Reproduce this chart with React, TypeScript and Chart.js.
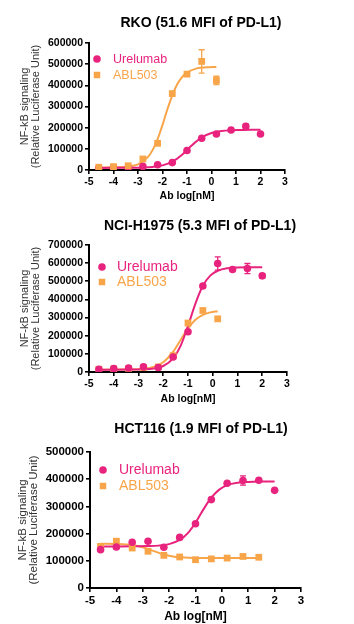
import React, { useEffect, useRef } from "react";
import { Chart, registerables } from "chart.js";

Chart.register(...registerables);

const MAGENTA = "#e8237d";
const ORANGE = "#f8a54a";
const FONT = "'Liberation Sans', Arial, sans-serif";

// ---------- shared ----------
const seriesNames = ["Urelumab", "ABL503"];
const xTickMin = -5;
const xTickMax = 3;
const xAxisTitle = "Ab log[nM]";
const yAxisTitle = ["NF-kB signaling", "(Relative Luciferase Unit)"];

// ---------- RKO ----------
const rkoTitle = "RKO (51.6 MFI of PD-L1)";
const rkoYMax = 600000;
const rkoUreX = [-4.6, -4, -3.4, -2.8, -2.2, -1.6, -1, -0.4, 0.2, 0.8, 1.4, 2];
const rkoUreY = [9000, 10000, 11000, 17000, 25000, 35000, 92000, 150000, 170000, 189000, 207000, 170000];
const rkoUreErr = [0, 0, 0, 0, 0, 0, 0, 0, 0, 0, 10000, 0];
const rkoAblX = [-4.6, -4, -3.4, -2.8, -2.2, -1.6, -1, -0.4, 0.2];
const rkoAblY = [13000, 16000, 20000, 52000, 126000, 361000, 453000, 513000, 423000];
const rkoAblErr = [0, 0, 0, 0, 0, 0, 0, 55000, 20000];
const rkoUreFitX = [-4.6, -4, -3.4, -2.8, -2.4, -2, -1.6, -1.2, -0.8, -0.4, 0, 0.4, 0.8, 1.2, 1.6, 2];
const rkoUreFitY = [10000, 10100, 10400, 11600, 14500, 21700, 39000, 72500, 117000, 154000, 175000, 184000, 188000, 189000, 190000, 190000];
const rkoAblFitX = [-4.6, -4, -3.4, -3, -2.6, -2.4, -2.2, -2, -1.8, -1.6, -1.4, -1.2, -1, -0.6, -0.2, 0.2];
const rkoAblFitY = [12000, 12700, 16500, 27000, 60500, 95000, 146000, 213000, 287000, 353000, 405000, 439000, 460000, 480000, 485000, 487000];

// ---------- NCI-H1975 ----------
const h1975Title = "NCI-H1975 (5.3 MFI of PD-L1)";
const h1975YMax = 700000;
const h1975UreX = [-4.6, -4, -3.4, -2.8, -2.2, -1.6, -1, -0.4, 0.2, 0.8, 1.4, 2];
const h1975UreY = [15000, 18500, 22000, 28000, 25000, 83000, 222000, 474000, 598000, 565000, 570000, 530000];
const h1975UreErr = [0, 0, 0, 0, 0, 0, 10000, 0, 37000, 0, 28000, 12000];
const h1975AblX = [-4.6, -4, -3.4, -2.8, -2.2, -1.6, -1, -0.4, 0.2];
const h1975AblY = [15000, 17000, 20000, 24000, 28000, 90000, 270000, 339000, 293000];
const h1975AblErr = [0, 0, 0, 0, 0, 0, 0, 0, 0];
const h1975UreFitX = [-4.6, -4, -3.4, -2.8, -2.4, -2, -1.6, -1.3, -1, -0.7, -0.4, -0.1, 0.2, 0.6, 1, 1.5, 2];
const h1975UreFitY = [13000, 13050, 13300, 15000, 19200, 33000, 75000, 144000, 254000, 377000, 475000, 531000, 558000, 572000, 576000, 577000, 578000];
const h1975AblFitX = [-4.6, -4, -3.4, -2.8, -2.4, -2, -1.6, -1.3, -1, -0.7, -0.4, -0.1, 0.2];
const h1975AblFitY = [13000, 13200, 14000, 18100, 28000, 54000, 112000, 176500, 240000, 288000, 315000, 328500, 335000];

// ---------- HCT116 ----------
const hctTitle = "HCT116 (1.9 MFI of PD-L1)";
const hctYMax = 500000;
const hctUreX = [-4.6, -4, -3.4, -2.8, -2.2, -1.6, -1, -0.4, 0.2, 0.8, 1.4, 2];
const hctUreY = [141000, 151000, 168000, 172000, 150000, 186000, 236000, 325000, 385000, 395000, 396000, 359000];
const hctUreErr = [0, 0, 0, 0, 0, 0, 0, 0, 0, 17000, 0, 0];
const hctAblX = [-4.6, -4, -3.4, -2.8, -2.2, -1.6, -1, -0.4, 0.2, 0.8, 1.4];
const hctAblY = [153000, 172000, 147000, 135000, 120000, 114000, 104000, 107000, 110000, 116000, 113000];
const hctAblErr = [0, 0, 0, 0, 0, 0, 0, 0, 0, 0, 0];
const hctUreFitX = [-4.6, -4, -3.4, -2.8, -2.4, -2, -1.6, -1.3, -1, -0.7, -0.4, -0.1, 0.2, 0.6, 1, 1.5, 2];
const hctUreFitY = [153000, 153000, 153200, 154000, 155800, 161400, 176700, 201000, 240000, 289000, 332000, 361600, 378000, 387000, 390000, 391500, 392000];
const hctAblFitX = [-4.6, -4, -3.4, -3, -2.6, -2.2, -1.8, -1.4, -1, -0.4, 0.2, 0.8, 1.4];
const hctAblFitY = [162800, 161900, 157800, 149800, 136500, 123200, 115200, 111800, 110600, 110100, 110000, 110000, 110000];

const zip = (xs: number[], ys: number[]) => xs.map((x, i) => ({ x, y: ys[i] }));

const errorBarPlugin = {
  id: "errorBars",
  afterDatasetsDraw(chart: any) {
    const ctx = chart.ctx;
    const ys = chart.scales.y;
    chart.data.datasets.forEach((ds: any, i: number) => {
      const errs = ds.errors;
      if (!errs) return;
      const meta = chart.getDatasetMeta(i);
      ctx.save();
      ctx.strokeStyle = ds.backgroundColor;
      ctx.lineWidth = 1.3;
      meta.data.forEach((pt: any, j: number) => {
        const e = errs[j];
        if (!e) return;
        const v = ds.data[j].y;
        const yT = ys.getPixelForValue(v + e);
        const yB = ys.getPixelForValue(v - e);
        const x = pt.x;
        ctx.beginPath();
        ctx.moveTo(x, yT);
        ctx.lineTo(x, yB);
        ctx.moveTo(x - 3, yT);
        ctx.lineTo(x + 3, yT);
        ctx.moveTo(x - 3, yB);
        ctx.lineTo(x + 3, yB);
        ctx.stroke();
      });
      ctx.restore();
    });
  },
};

const inlineLegendPlugin = {
  id: "inlineLegend",
  afterDraw(chart: any, _args: any, opts: any) {
    if (!opts || !opts.items) return;
    const ctx = chart.ctx;
    const { left, top } = chart.chartArea;
    ctx.save();
    opts.items.forEach((it: any, k: number) => {
      const cy = top + opts.y0 + k * opts.dy;
      const mx = left + opts.markerX;
      ctx.fillStyle = it.color;
      if (it.style === "circle") {
        ctx.beginPath();
        ctx.arc(mx, cy, opts.circleR, 0, Math.PI * 2);
        ctx.fill();
      } else {
        const s = opts.squareS;
        ctx.fillRect(mx - s / 2, cy - s / 2, s, s);
      }
      ctx.font = `${opts.fontSize}px ${FONT}`;
      ctx.textBaseline = "middle";
      ctx.textAlign = "left";
      ctx.fillText(it.label, left + opts.textX, cy + 0.5);
    });
    ctx.restore();
  },
};

const panelTitlePlugin = {
  id: "panelTitle",
  afterDraw(chart: any, _args: any, opts: any) {
    if (!opts || !opts.text) return;
    const ctx = chart.ctx;
    ctx.save();
    ctx.fillStyle = "#000";
    ctx.font = `bold ${opts.size}px ${FONT}`;
    ctx.textAlign = "center";
    ctx.textBaseline = "middle";
    ctx.fillText(opts.text, opts.x, opts.y);
    ctx.restore();
  },
};

type PanelSpec = {
  top: number;
  height: number;
  title: string;
  titleX: number;
  titleY: number;
  plotTop: number;
  yMax: number;
  padLeft: number;
  yWidth: number;
  padRight: number;
  xHeight: number;
  xTitlePadBottom: number;
  tickFont: number;
  xTitleFont: number;
  yTitleFont: number;
  legend: any;
  ure: { x: number[]; y: number[]; err: number[]; fx: number[]; fy: number[] };
  abl: { x: number[]; y: number[]; err: number[]; fx: number[]; fy: number[] };
  ablOnTop: boolean;
};

function buildConfig(p: PanelSpec): any {
  const urePts = {
    type: "scatter",
    data: zip(p.ure.x, p.ure.y),
    backgroundColor: MAGENTA,
    borderColor: MAGENTA,
    pointStyle: "circle",
    pointRadius: 3.8,
    borderWidth: 0,
    errors: p.ure.err,
  };
  const ablPts = {
    type: "scatter",
    data: zip(p.abl.x, p.abl.y),
    backgroundColor: ORANGE,
    borderColor: ORANGE,
    pointStyle: "rect",
    pointRadius: 4.8,
    borderWidth: 0,
    errors: p.abl.err,
  };
  const ureFit = {
    type: "line",
    data: zip(p.ure.fx, p.ure.fy),
    borderColor: MAGENTA,
    backgroundColor: MAGENTA,
    borderWidth: 2,
    pointRadius: 0,
    cubicInterpolationMode: "monotone",
    fill: false,
  };
  const ablFit = {
    type: "line",
    data: zip(p.abl.fx, p.abl.fy),
    borderColor: ORANGE,
    backgroundColor: ORANGE,
    borderWidth: 2,
    pointRadius: 0,
    cubicInterpolationMode: "monotone",
    fill: false,
  };
  // dataset index 0 is drawn on top
  const datasets = p.ablOnTop
    ? [ablPts, urePts, ureFit, ablFit]
    : [urePts, ablPts, ureFit, ablFit];
  return {
    type: "scatter",
    data: { datasets },
    plugins: [errorBarPlugin, inlineLegendPlugin, panelTitlePlugin],
    options: {
      responsive: false,
      animation: false,
      events: [],
      layout: { padding: { left: p.padLeft, right: p.padRight, top: p.plotTop, bottom: 0 } },
      plugins: {
        legend: { display: false },
        tooltip: { enabled: false },
        title: { display: false },
        panelTitle: { text: p.title, x: p.titleX, y: p.titleY, size: 14 },
        inlineLegend: p.legend,
      },
      scales: {
        x: {
          type: "linear",
          min: xTickMin,
          max: xTickMax,
          afterFit: (s: any) => {
            s.height = p.xHeight;
          },
          ticks: {
            stepSize: 1,
            color: "#000",
            padding: 2,
            maxRotation: 0,
            font: { family: FONT, size: p.tickFont, weight: "bold" },
            callback: (v: any) => String(v),
          },
          grid: {
            display: true,
            drawOnChartArea: false,
            drawTicks: true,
            tickLength: 4,
            color: "#000",
            lineWidth: 1.6,
          },
          border: { display: true, color: "#000", width: 2 },
          title: {
            display: true,
            text: xAxisTitle,
            color: "#000",
            font: { family: FONT, size: p.xTitleFont, weight: "bold", lineHeight: 1.2 },
            padding: { top: 0, bottom: p.xTitlePadBottom },
          },
        },
        y: {
          type: "linear",
          min: 0,
          max: p.yMax,
          afterFit: (s: any) => {
            s.width = p.yWidth;
          },
          ticks: {
            stepSize: 100000,
            color: "#000",
            padding: 2,
            font: { family: FONT, size: p.tickFont, weight: "bold" },
            callback: (v: any) => String(v),
          },
          grid: {
            display: true,
            drawOnChartArea: false,
            drawTicks: true,
            tickLength: 4,
            color: "#000",
            lineWidth: 1.6,
          },
          border: { display: true, color: "#000", width: 2 },
          title: {
            display: true,
            text: yAxisTitle,
            color: "#333",
            font: { family: FONT, size: p.yTitleFont, weight: "normal", lineHeight: 1.0 },
            padding: { top: 0, bottom: 0 },
          },
        },
      },
    },
  };
}

const legendItems = [
  { label: seriesNames[0], color: MAGENTA, style: "circle" },
  { label: seriesNames[1], color: ORANGE, style: "rect" },
];

const panels: PanelSpec[] = [
  {
    top: 0,
    height: 205,
    title: rkoTitle,
    titleX: 201,
    titleY: 23,
    plotTop: 43,
    yMax: rkoYMax,
    padLeft: 19,
    yWidth: 70,
    padRight: 69,
    xHeight: 35,
    xTitlePadBottom: 3,
    tickFont: 10.5,
    xTitleFont: 10.5,
    yTitleFont: 11,
    legend: {
      items: legendItems,
      y0: 16,
      dy: 16,
      markerX: 8,
      textX: 24,
      fontSize: 12.5,
      circleR: 3.8,
      squareS: 6.5,
    },
    ure: { x: rkoUreX, y: rkoUreY, err: rkoUreErr, fx: rkoUreFitX, fy: rkoUreFitY },
    abl: { x: rkoAblX, y: rkoAblY, err: rkoAblErr, fx: rkoAblFitX, fy: rkoAblFitY },
    ablOnTop: true,
  },
  {
    top: 205,
    height: 205,
    title: h1975Title,
    titleX: 200,
    titleY: 21,
    plotTop: 40,
    yMax: h1975YMax,
    padLeft: 19,
    yWidth: 70,
    padRight: 67,
    xHeight: 38,
    xTitlePadBottom: 5,
    tickFont: 10.5,
    xTitleFont: 10.5,
    yTitleFont: 11,
    legend: {
      items: legendItems,
      y0: 22,
      dy: 15,
      markerX: 13,
      textX: 28,
      fontSize: 14,
      circleR: 3.8,
      squareS: 6.5,
    },
    ure: { x: h1975UreX, y: h1975UreY, err: h1975UreErr, fx: h1975UreFitX, fy: h1975UreFitY },
    abl: { x: h1975AblX, y: h1975AblY, err: h1975AblErr, fx: h1975AblFitX, fy: h1975AblFitY },
    ablOnTop: false,
  },
  {
    top: 410,
    height: 214,
    title: hctTitle,
    titleX: 201,
    titleY: 19,
    plotTop: 42,
    yMax: hctYMax,
    padLeft: 17,
    yWidth: 73,
    padRight: 53,
    xHeight: 36,
    xTitlePadBottom: 0,
    tickFont: 11.5,
    xTitleFont: 12,
    yTitleFont: 11.5,
    legend: {
      items: legendItems,
      y0: 18,
      dy: 16,
      markerX: 13,
      textX: 29,
      fontSize: 14,
      circleR: 3.8,
      squareS: 6.5,
    },
    ure: { x: hctUreX, y: hctUreY, err: hctUreErr, fx: hctUreFitX, fy: hctUreFitY },
    abl: { x: hctAblX, y: hctAblY, err: hctAblErr, fx: hctAblFitX, fy: hctAblFitY },
    ablOnTop: false,
  },
];

function Panel({ spec }: { spec: PanelSpec }) {
  const ref = useRef<HTMLCanvasElement | null>(null);
  useEffect(() => {
    if (!ref.current) return;
    const chart = new Chart(ref.current, buildConfig(spec));
    return () => chart.destroy();
  }, [spec]);
  return (
    <canvas
      ref={ref}
      width={354}
      height={spec.height}
      style={{ position: "absolute", left: 0, top: spec.top, width: 354, height: spec.height }}
    />
  );
}

export default function App() {
  return (
    <div
      style={{
        position: "absolute",
        left: 0,
        top: 0,
        width: 354,
        height: 624,
        background: "#fff",
        overflow: "hidden",
      }}
    >
      {panels.map((p, i) => (
        <Panel key={i} spec={p} />
      ))}
    </div>
  );
}
